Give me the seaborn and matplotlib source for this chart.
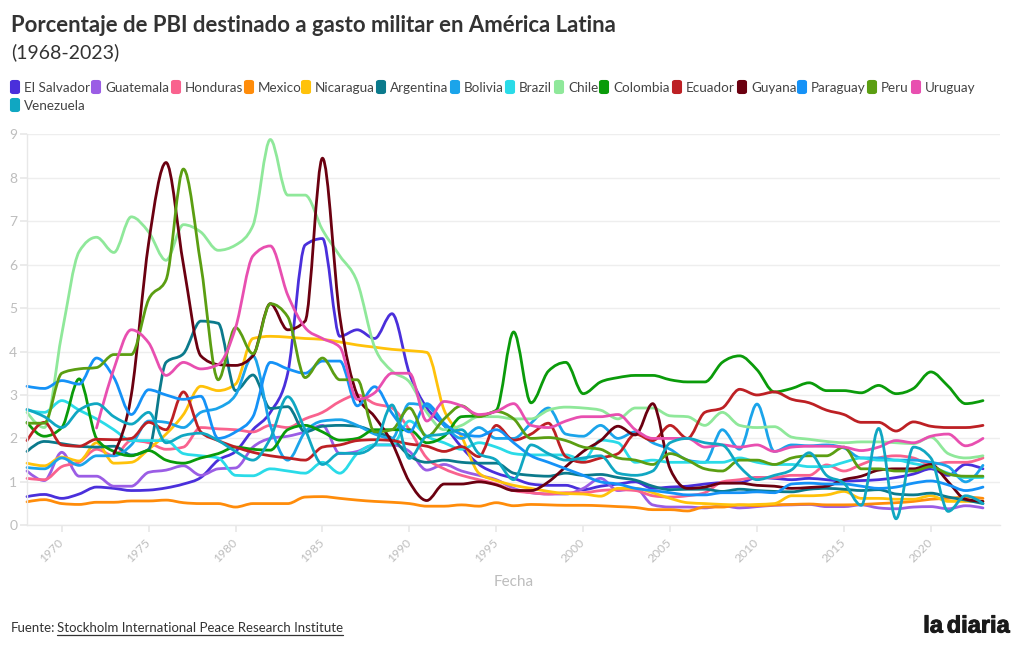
import numpy as np
import pandas as pd
import matplotlib
matplotlib.use('Agg')
import matplotlib.pyplot as plt
from matplotlib.lines import Line2D
from matplotlib.patches import FancyBboxPatch
from matplotlib.path import Path
from matplotlib.patheffects import AbstractPathEffect, withStroke
from matplotlib.transforms import IdentityTransform
import seaborn as sns

years = list(range(1968, 2024))
nan = np.nan

el_salvador = [.66, .71, .62, .72, .88, .85, .80, .81, .86, .95, 1.10, 1.5,
               1.7, 2.2, 2.6, 3.5, 6.45, 6.6, 4.35, 4.5, 4.3, 4.87,
               3.5, 2.7, 2.3, 1.8, 1.4, 1.2, 1.08, .95, .92, .92,
               .82, .9, .95, 1.0, .85, .88, .9, .95, .98, .98,
               1.1, 1.08, 1.05, 1.08, 1.05, 1.02, 1.03, 1.05, 1.1, 1.18,
               1.3, 1.15, 1.4, 1.3]
guatemala = [1.25, 1.03, 1.68, 1.13, 1.13, .9, .9, 1.22, 1.27, 1.37, 1.15, 1.3,
             1.32, 1.8, 2.0, 2.05, 2.15, 2.3, 1.65, 1.7, 1.85, 1.85,
             1.7, 1.27, 1.4, 1.25, 1.15, 1.05, .85, .75, .72, .72,
             .85, 1.08, .8, .85, .47, .42, .42, .4, .45, .4,
             .43, .46, .47, .48, .43, .43, .47, .4, .38, .42,
             .43, .38, .45, .40]
honduras = [1.08, 1.05, 1.35, 1.45, 1.75, 1.6, 1.95, 1.9, 1.75, 1.8, 2.25, 2.22,
            2.2, 2.15, 2.3, 2.25, 2.45, 2.6, 2.85, 3.0, 2.8, 2.7,
            2.2, 1.55, 1.3, 1.15, 1.05, .95, .8, .75, .72, .75,
            .75, .8, .82, .8, .68, .65, .68, .75, 1.0, 1.05,
            1.1, 1.1, 1.15, 1.15, 1.39, 1.25, 1.4, 1.55, 1.6, 1.55,
            1.4, 1.45, 1.45, 1.55]
mexico = [.54, .59, .50, .48, .53, .53, .56, .56, .58, .52, .50, .50,
          .42, .50, .50, .50, .65, .66, .62, .58, .55, .53,
          .50, .44, .44, .47, .44, .52, .45, .48, .47, .46,
          .46, .45, .43, .41, .36, .36, .33, .42, .42, .47,
          .45, .47, .48, .49, .47, .47, .48, .50, .52, .55,
          .60, .62, .65, .62]
nicaragua = [1.43, 1.37, 1.57, 1.48, 1.9, 1.43, 1.45, 1.75, 2.1, 2.55, 3.2, 3.1,
             3.25, 4.3, 4.35, 4.33, 4.3, 4.28, 4.22, 4.15, 4.1, 4.05,
             4.02, 3.98, 2.65, 2.04, 1.2, 1.03, .92, .85, .78, .73,
             .72, .67, .85, .85, .75, .62, .52, .5, .48, .47,
             .48, .5, .68, .68, .7, .78, .62, .62, .6, .6,
             .68, .55, .55, .55]
argentina = [1.7, 1.93, 1.88, 1.82, 1.8, 1.82, 1.62, 1.75, 3.75, 3.95, 4.7, 4.65,
             3.1, 3.46, 2.69, 2.73, 2.15, 2.28, 2.3, 2.28, 2.15, 2.0,
             1.6, 1.45, 1.5, 1.45, 1.43, 1.43, 1.2, 1.15, 1.13, 1.2,
             1.15, 1.17, 1.1, 1.04, .9, .82, .83, .83, .78, .83,
             .8, .78, .77, .83, .85, .83, .8, .82, .72, .7,
             .74, .65, .58, .5]
bolivia = [1.33, 1.3, 1.55, 1.38, 1.6, 1.6, 1.85, 2.4, 2.37, 2.25, 2.6, 2.7,
           3.0, 3.9, 2.3, 1.5, 2.15, 2.4, 2.43, 2.3, 2.1, 2.0,
           2.8, 2.75, 2.3, 2.0, 2.25, 2.0, 2.0, 2.35, 2.7, 2.1,
           2.05, 2.3, 2.0, 2.15, 1.9, 1.75, 1.5, 1.45, 2.2, 1.75,
           2.79, 1.7, 1.85, 1.83, 1.85, 1.78, 1.55, 1.55, 1.5, 1.5,
           1.45, 1.35, 1.0, 1.38]
brazil = [2.65, 2.6, 2.87, 2.65, 2.45, 2.2, 1.95, 1.95, 1.95, 1.65, 1.6, 1.55,
          1.15, 1.14, 1.3, 1.25, 1.2, 1.45, 1.2, 1.65, 1.85, 1.85,
          2.4, 2.05, 1.9, 1.75, 1.9, 1.8, 1.65, 1.62, 1.62, 1.62,
          1.5, 1.96, 1.9, 1.45, 1.5, 1.45, 1.45, 1.45, 1.45, 1.55,
          1.45, 1.4, 1.4, 1.35, 1.35, 1.45, 1.55, 1.5, 1.5, 1.42,
          1.35, 1.2, 1.1, 1.1]
chile = [2.6, 2.25, 4.4, 6.3, 6.63, 6.28, 7.1, 6.75, 6.1, 6.92, 6.75, 6.33,
         6.45, 6.9, 8.88, 7.6, 7.6, 6.8, 6.2, 5.6, 4.1, 3.55,
         3.3, 2.6, 2.2, 2.3, 2.5, 2.5, 2.45, 2.45, 2.65, 2.72,
         2.7, 2.65, 2.45, 2.7, 2.7, 2.52, 2.5, 2.3, 2.6, 2.3,
         2.25, 2.27, 2.03, 1.98, 1.93, 1.9, 1.92, 1.92, 1.9, 1.88,
         2.03, 1.65, 1.55, 1.6]
colombia = [2.37, 2.05, 2.25, 3.37, 2.0, 1.7, 1.6, 1.72, 1.5, 1.43, 1.55, 1.65,
            1.8, 1.75, 1.73, 2.2, 2.3, 2.15, 1.96, 2.0, 2.2, 2.2,
            2.2, 1.9, 2.05, 2.5, 2.52, 2.65, 4.45, 2.82, 3.55, 3.75,
            3.03, 3.3, 3.4, 3.45, 3.45, 3.35, 3.3, 3.3, 3.75, 3.9,
            3.58, 3.07, 3.15, 3.28, 3.1, 3.1, 3.05, 3.22, 3.03, 3.15,
            3.53, 3.2, 2.8, 2.87]
ecuador = [1.95, 2.37, 1.85, 1.82, 1.98, 1.97, 2.0, 2.37, 2.2, 3.07, 2.15, 1.95,
           1.8, 1.68, 1.6, 1.55, 1.5, 1.8, 1.85, 1.95, 1.97, 1.95,
           1.87, 1.82, 1.7, 1.81, 1.58, 2.3, 1.96, 2.1, 2.35, 1.58,
           1.45, 1.55, 1.65, 2.1, 1.95, 2.3, 2.0, 2.6, 2.7, 3.13,
           3.0, 3.07, 2.9, 2.82, 2.65, 2.55, 2.37, 2.37, 2.17, 2.38,
           2.28, 2.25, 2.25, 2.3]
guyana = [nan, nan, nan, nan, nan, 1.65, 3.0, 6.5, 8.35, 6.0, 3.9, 3.7,
          3.68, 3.9, 5.1, 4.5, 4.7, 8.45, 4.8, 3.0, 2.5, 1.9,
          1.0, .57, .95, .95, 1.0, .93, .8, .8, 1.0, 1.35,
          1.7, 1.95, 2.28, 2.08, 2.8, 1.3, .85, .88, .97, .97,
          .92, .9, .85, .87, .9, 1.05, 1.13, 1.27, 1.3, 1.3,
          1.4, 1.0, .6, .55]
paraguay = [3.2, 3.15, 3.33, 3.25, 3.85, 3.4, 2.55, 3.12, 3.0, 2.9, 2.97, 2.0,
            2.15, 2.5, 3.75, 3.6, 3.5, 3.78, 3.78, 2.75, 3.19, 2.58,
            2.15, 2.8, 2.35, 2.1, 2.05, 2.2, 1.9, 1.6, 1.45, 1.3,
            1.15, 1.0, .95, .85, .8, .75, .7, .7, .75, .75,
            .77, .75, .95, .97, .95, .95, .9, .85, .88, .97,
            1.02, .93, .8, .88]
peru = [2.35, 2.35, 3.5, 3.6, 3.63, 3.93, 3.93, 5.2, 5.65, 8.2, 6.0, 3.35,
        4.55, 3.95, 5.1, 4.8, 3.4, 3.85, 3.35, 3.35, 2.15, 2.2,
        2.7, 2.04, 2.45, 2.75, 2.5, 2.62, 2.45, 2.0, 2.02, 1.95,
        1.8, 1.75, 1.55, 1.5, 1.4, 1.65, 1.5, 1.3, 1.25, 1.5,
        1.5, 1.4, 1.55, 1.6, 1.6, 1.8, 1.3, 1.3, 1.25, 1.25,
        1.35, 1.18, 1.13, 1.13]
uruguay = [nan, nan, nan, nan, 2.24, 3.6, 4.5, 4.2, 3.45, 3.75, 3.6, 3.7,
           4.55, 6.2, 6.43, 5.3, 4.55, 4.3, 4.1, 2.9, 3.05, 3.5,
           3.5, 2.4, 2.85, 2.75, 2.55, 2.62, 2.8, 2.3, 2.25, 2.4,
           2.5, 2.5, 2.55, 2.2, 2.0, 2.0, 2.0, 1.8, 1.85, 1.8,
           1.85, 1.7, 1.8, 1.82, 1.82, 1.8, 1.72, 1.8, 1.95, 1.9,
           2.05, 2.1, 1.83, 2.0]
venezuela = [2.67, 2.5, 2.25, 2.65, 2.8, 2.5, 2.33, 2.6, 1.9, 2.07, 2.12, 1.95,
             1.7, 1.5, 2.0, 2.96, 2.2, 1.4, 1.66, 1.65, 1.85, 2.77,
             1.54, 2.05, 2.1, 2.2, 1.65, 1.5, 1.05, 1.85, 1.65, 1.5,
             1.55, 1.6, 1.2, 1.15, 1.25, 1.9, 2.0, 1.9, 1.85, 1.35,
             1.05, 1.15, 1.28, 1.67, 1.15, .97, .46, 2.23, .15, 1.8,
             1.55, .32, .68, .5]

countries = ['El Salvador', 'Guatemala', 'Honduras', 'Mexico', 'Nicaragua', 'Argentina',
             'Bolivia', 'Brazil', 'Chile', 'Colombia', 'Ecuador', 'Guyana',
             'Paraguay', 'Peru', 'Uruguay', 'Venezuela']
series = [el_salvador, guatemala, honduras, mexico, nicaragua, argentina,
          bolivia, brazil, chile, colombia, ecuador, guyana,
          paraguay, peru, uruguay, venezuela]
colors = ['#4a2fdb', '#9b5de5', '#f9628e', '#ff8c0a', '#ffc20a', '#0b7a8c',
          '#1ba4ea', '#2adbe8', '#8fe89a', '#0a9b0a', '#bd2024', '#6b0010',
          '#1592f7', '#5b9e12', '#e84fb0', '#10a7c2']

x_ticks = [1970, 1975, 1980, 1985, 1990, 1995, 2000, 2005, 2010, 2015, 2020]
y_ticks = [0, 1, 2, 3, 4, 5, 6, 7, 8, 9]

df = pd.concat([pd.DataFrame({'Fecha': years, 'pais': c, 'valor': v})
                for c, v in zip(countries, series)], ignore_index=True)

W, H = 1020, 650


class MonotoneCurve(AbstractPathEffect):
    # strokes the seaborn line as a monotone bezier through its own yearly vertices
    def draw_path(self, renderer, gc, tpath, affine, rgbFace=None):
        pts = affine.transform(tpath.vertices)
        pts = pts[np.isfinite(pts).all(axis=1)]
        x, y = pts[:, 0], pts[:, 1]
        h = np.diff(x)
        s = np.diff(y) / h
        t = np.zeros(len(x))
        for i in range(1, len(x) - 1):
            p = (s[i - 1] * h[i] + s[i] * h[i - 1]) / (h[i - 1] + h[i])
            t[i] = (np.sign(s[i - 1]) + np.sign(s[i])) * min(abs(s[i - 1]), abs(s[i]), 0.5 * abs(p))
        t[0] = (3 * s[0] - t[1]) / 2
        t[-1] = (3 * s[-1] - t[-2]) / 2
        verts = [pts[0]]
        codes = [Path.MOVETO]
        for i in range(len(x) - 1):
            d = h[i] / 3
            verts += [(x[i] + d, y[i] + t[i] * d), (x[i + 1] - d, y[i + 1] - t[i + 1] * d), pts[i + 1]]
            codes += [Path.CURVE4] * 3
        renderer.draw_path(gc, Path(verts, codes), IdentityTransform(), None)


sns.set_theme(style='white')
plt.rcParams['font.family'] = ['Lato', 'DejaVu Sans']

fig = plt.figure(figsize=(W / 100, H / 100), dpi=100)
ax = fig.add_axes([27 / W, 1 - 525.3 / H, 973 / W, 391 / H])

sns.lineplot(data=df, x='Fecha', y='valor', hue='pais', hue_order=countries,
             palette=colors, estimator=None, legend=False, linewidth=2.0,
             solid_joinstyle='round', solid_capstyle='round', ax=ax, clip_on=False)
for line in ax.get_lines():
    line.set_path_effects([MonotoneCurve()])

ax.set_xlim(1968, 2023.98)
ax.set_ylim(0, 9)
ax.set_xticks(x_ticks)
ax.set_yticks(y_ticks)
ax.grid(axis='y', color='#eeeeee', linewidth=1)
ax.set_axisbelow(True)
for side in ['top', 'right']:
    ax.spines[side].set_visible(False)
for side in ['left', 'bottom']:
    ax.spines[side].set_color('#e8e8e8')
    ax.spines[side].set_linewidth(1)
ax.tick_params(axis='y', length=5, color='#e8e8e8', labelcolor='#bdbdbd', labelsize=10, pad=2, left=True)
ax.tick_params(axis='x', length=5, color='#e8e8e8', labelcolor='#bdbdbd', labelsize=8.7, pad=6, bottom=True)
plt.setp(ax.get_xticklabels(), rotation=45, ha='right', va='center', rotation_mode='anchor')
ax.set_ylabel('')
ax.set_xlabel('Fecha', color='#bdbdbd', fontsize=11)
ax.xaxis.set_label_coords(487 / 973, -(582.5 - 525.3) / 391)
ax.xaxis.label.set_va('center')


def px_text(x, y, s, **kw):
    return fig.text(x / W, 1 - y / H, s, va='center', **kw)


px_text(11, 25.5, 'Porcentaje de PBI destinado a gasto militar en América Latina',
        fontsize=15.9, fontweight='bold', color='#333333')
px_text(11, 52, '(1968-2023)', fontsize=14, color='#333333')

# legend, laid out by hand because the rows are not even columns
swatch_x = [11, 92, 172, 245, 302, 377, 451, 506, 555, 600, 673, 738, 798, 868, 912, 11]
swatch_y = [87] * 15 + [105]
for name, col, sx, sy in zip(countries, colors, swatch_x, swatch_y):
    fig.add_artist(FancyBboxPatch((sx / W, 1 - (sy + 6) / H), 8 / W, 12 / H,
                                  boxstyle='round,pad=0,rounding_size=0.002',
                                  transform=fig.transFigure, facecolor=col, edgecolor=col, linewidth=1.5))
    px_text(sx + 13, sy + 1, name, fontsize=9.7, color='#444444')

px_text(11, 628, 'Fuente:', fontsize=9.5, color='#333333')
link = px_text(57, 628, 'Stockholm International Peace Research Institute', fontsize=9.5, color='#333333')
fig.canvas.draw()
bb = link.get_window_extent()
fig.add_artist(Line2D([bb.x0 / W, bb.x1 / W], [1 - 635 / H, 1 - 635 / H], color='#333333', linewidth=0.9))

heavy = [withStroke(linewidth=0.7, foreground='#1a1a1a')]
px_text(1010, 626, 'diaria', fontsize=17, fontweight='bold', color='#1a1a1a', ha='right',
        family='Liberation Sans', path_effects=heavy)
px_text(943, 626, 'la', fontsize=17, fontweight='bold', color='#1a1a1a', ha='right',
        family='Liberation Sans', path_effects=heavy)

fig.savefig('out.png', dpi=100)
